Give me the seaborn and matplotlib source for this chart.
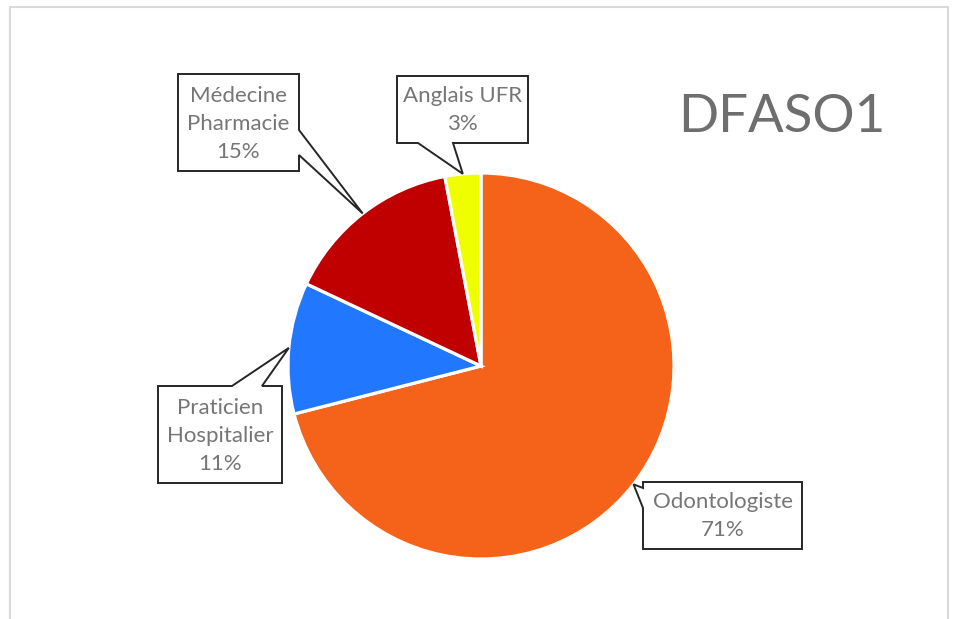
import numpy as np
import matplotlib.pyplot as plt
import seaborn as sns
from matplotlib.patches import Polygon, Rectangle

# donnees
labels = ['Odontologiste', 'Praticien\nHospitalier', 'Médecine\nPharmacie', 'Anglais UFR']
pcts = [71, 11, 15, 3]
colors = ['#F5621A', '#2277FF', '#C00000', '#F0FF00']
title = 'DFASO1'

sns.set_theme(style='white')
plt.rcParams['font.family'] = ['Lato', 'DejaVu Sans']

W, H = 955, 619
fig = plt.figure(figsize=(W / 100, H / 100), dpi=100)
ax = fig.add_axes([0, 0, 1, 1])

def P(x, y):
    # coordonnees image -> coordonnees axes
    return (x, H - y)

cx, cy, R = 481, 366, 193
wedges, _ = ax.pie(pcts, colors=colors, startangle=90, counterclock=False,
                   center=P(cx, cy), radius=R, frame=True,
                   wedgeprops=dict(edgecolor='white', linewidth=2.3))
ax.set_xlim(0, W)
ax.set_ylim(0, H)
ax.set_aspect('equal')
ax.axis('off')

# bulles: boite (x0, y0, x1, y1) et base de la queue (deux points sur le bord)
boxes = [
    ((643, 482, 802, 549), 'left', (488, 508)),
    ((158, 386, 282, 483), 'top', (232, 262)),
    ((178, 74, 299, 171), 'right', (130, 155)),
    ((397, 76, 528, 143), 'bottom', (418, 453)),
]

for w, lab, p, (box, side, base) in zip(wedges, labels, pcts, boxes):
    ang = np.deg2rad((w.theta1 + w.theta2) / 2)
    tip = (cx + R * np.cos(ang), cy - R * np.sin(ang))
    x0, y0, x1, y1 = box
    a, b = base
    if side == 'left':
        pts = [(x0, y0), (x1, y0), (x1, y1), (x0, y1), (x0, b), tip, (x0, a)]
    elif side == 'top':
        pts = [(x0, y0), (a, y0), tip, (b, y0), (x1, y0), (x1, y1), (x0, y1)]
    elif side == 'right':
        pts = [(x0, y0), (x1, y0), (x1, a), tip, (x1, b), (x1, y1), (x0, y1)]
    else:
        pts = [(x0, y0), (x1, y0), (x1, y1), (b, y1), tip, (a, y1), (x0, y1)]
    ax.add_patch(Polygon([P(*q) for q in pts], closed=True, facecolor='white',
                         edgecolor='#262626', linewidth=1.4, zorder=5))
    ax.text(*P((x0 + x1) / 2, (y0 + y1) / 2 + 1), f'{lab}\n{p}%', ha='center',
            va='center', fontsize=16, color='#767676', linespacing=1.5, zorder=6)

ax.text(*P(782, 118), title, ha='center', va='center', fontsize=38, color='#6E6E6E')

# cadre du graphique
ax.add_patch(Rectangle(P(10, 640), 938, 633, fill=False, edgecolor='#D9D9D9',
                       linewidth=1.5, clip_on=False))

fig.savefig('out.png', dpi=100)
